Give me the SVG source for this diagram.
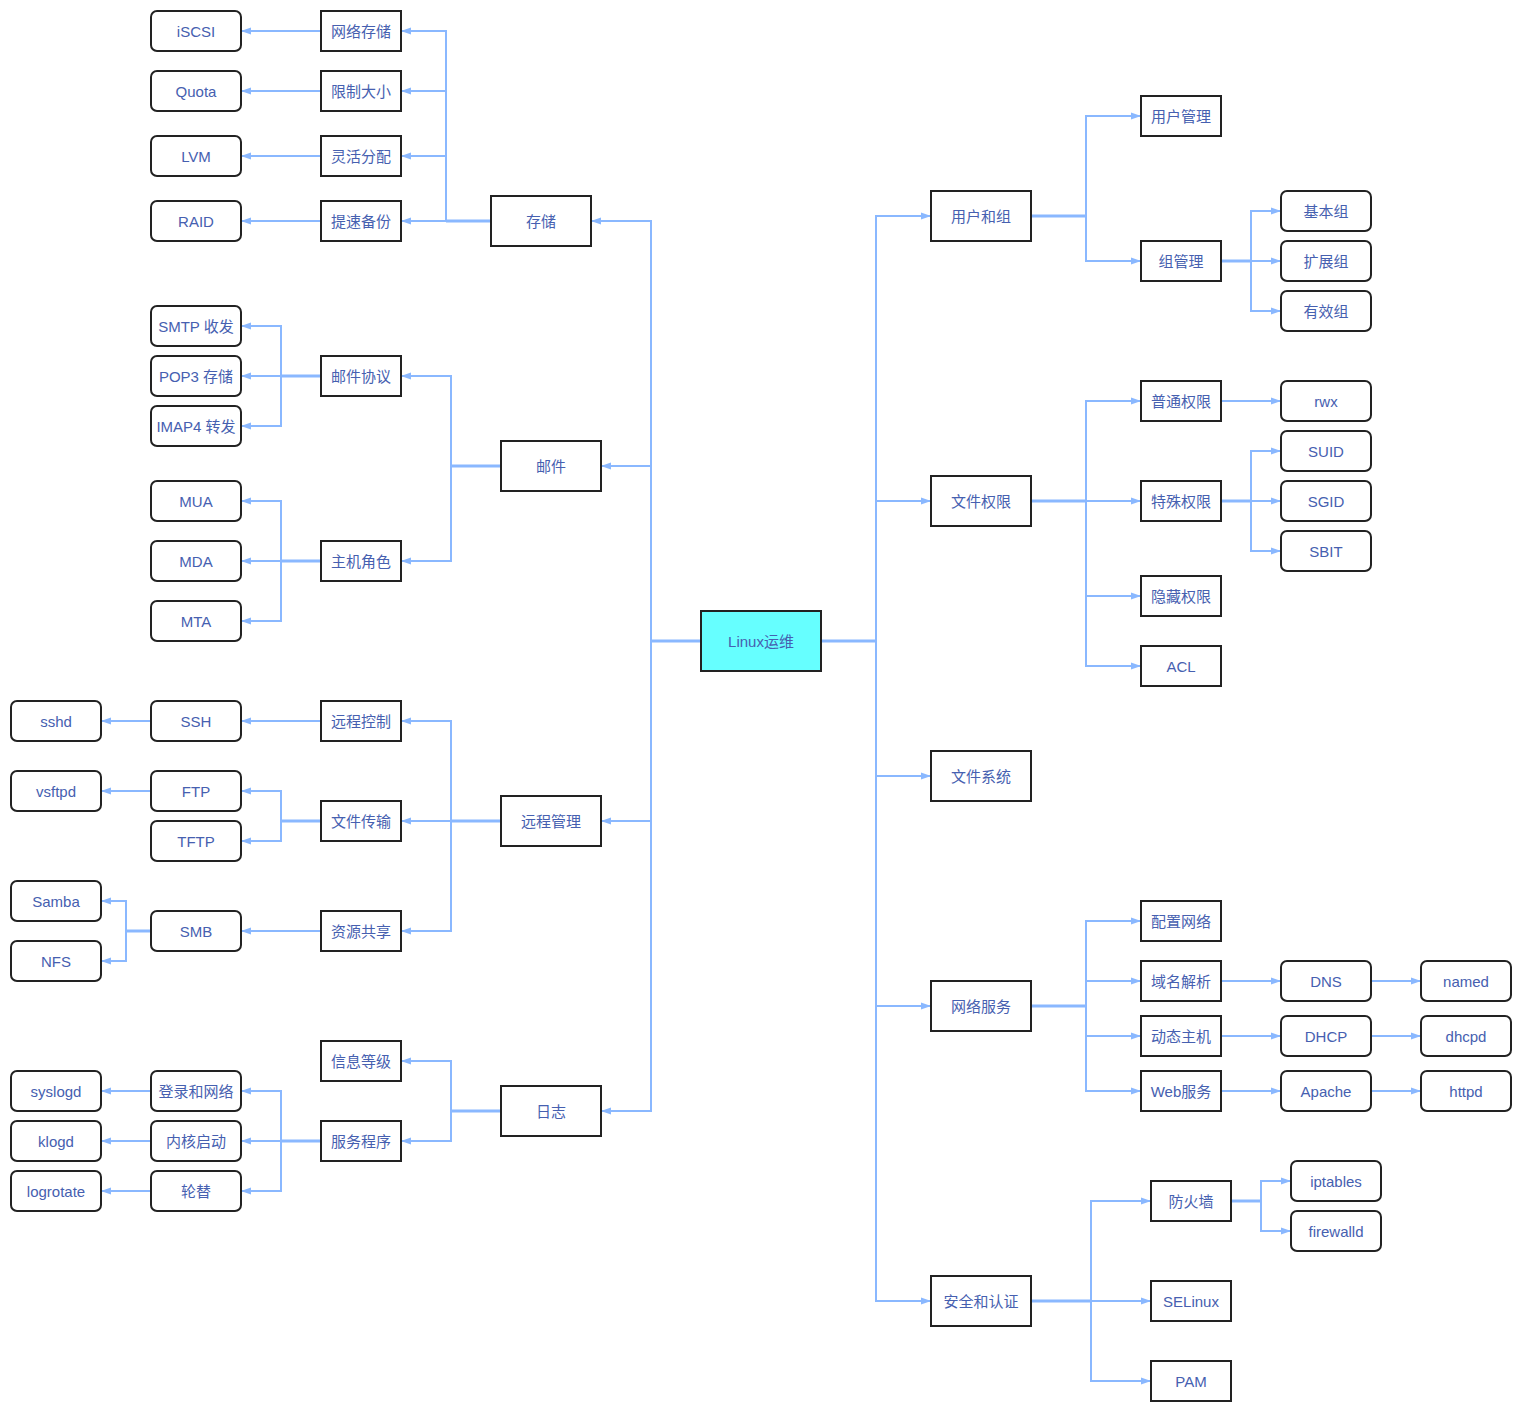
<svg xmlns="http://www.w3.org/2000/svg" width="1522" height="1412" viewBox="0 0 1522 1412">
<defs>
<style>
.b{fill:#fff;stroke:#222;stroke-width:2}
.ctr{fill:#66ffff;stroke:#222;stroke-width:2}
text{font-family:"Liberation Sans","Noto Sans CJK SC",sans-serif;font-size:15px;fill:#4660b0;text-anchor:middle;dominant-baseline:central}
.c path{fill:none;stroke:#8ab8ff;stroke-width:2}
.c path.s{stroke-width:3}
.c path.a{marker-end:url(#ar)}
</style>
<marker id="ar" viewBox="0 0 10 10" refX="10" refY="5" markerWidth="10" markerHeight="10" markerUnits="userSpaceOnUse" orient="auto"><path d="M0,1.5 L10,5 L0,8.5 z" fill="#8ab8ff"/></marker>
</defs>
<rect width="1522" height="1412" fill="#fff"/>
<g id="connectors" class="c">
<path class="s" d="M701,641 H651"/>
<path class="a" d="M651,641 V221 H591"/>
<path class="a" d="M651,641 V466 H601"/>
<path class="a" d="M651,641 V821 H601"/>
<path class="a" d="M651,641 V1111 H601"/>
<path class="s" d="M491,221 H446"/>
<path class="a" d="M446,221 V31 H401"/>
<path class="a" d="M446,221 V91 H401"/>
<path class="a" d="M446,221 V156 H401"/>
<path class="a" d="M446,221 H401"/>
<path class="a" d="M321,31 H241"/>
<path class="a" d="M321,91 H241"/>
<path class="a" d="M321,156 H241"/>
<path class="a" d="M321,221 H241"/>
<path class="s" d="M501,466 H451"/>
<path class="a" d="M451,466 V376 H401"/>
<path class="a" d="M451,466 V561 H401"/>
<path class="s" d="M321,376 H281"/>
<path class="a" d="M281,376 V326 H241"/>
<path class="a" d="M281,376 H241"/>
<path class="a" d="M281,376 V426 H241"/>
<path class="s" d="M321,561 H281"/>
<path class="a" d="M281,561 V501 H241"/>
<path class="a" d="M281,561 H241"/>
<path class="a" d="M281,561 V621 H241"/>
<path class="s" d="M501,821 H451"/>
<path class="a" d="M451,821 V721 H401"/>
<path class="a" d="M451,821 H401"/>
<path class="a" d="M451,821 V931 H401"/>
<path class="a" d="M321,721 H241"/>
<path class="a" d="M151,721 H101"/>
<path class="s" d="M321,821 H281"/>
<path class="a" d="M281,821 V791 H241"/>
<path class="a" d="M281,821 V841 H241"/>
<path class="a" d="M151,791 H101"/>
<path class="a" d="M321,931 H241"/>
<path class="s" d="M151,931 H126"/>
<path class="a" d="M126,931 V901 H101"/>
<path class="a" d="M126,931 V961 H101"/>
<path class="s" d="M501,1111 H451"/>
<path class="a" d="M451,1111 V1061 H401"/>
<path class="a" d="M451,1111 V1141 H401"/>
<path class="s" d="M321,1141 H281"/>
<path class="a" d="M281,1141 V1091 H241"/>
<path class="a" d="M281,1141 H241"/>
<path class="a" d="M281,1141 V1191 H241"/>
<path class="a" d="M151,1091 H101"/>
<path class="a" d="M151,1141 H101"/>
<path class="a" d="M151,1191 H101"/>
<path class="s" d="M821,641 H876"/>
<path class="a" d="M876,641 V216 H931"/>
<path class="a" d="M876,641 V501 H931"/>
<path class="a" d="M876,641 V776 H931"/>
<path class="a" d="M876,641 V1006 H931"/>
<path class="a" d="M876,641 V1301 H931"/>
<path class="s" d="M1031,216 H1086"/>
<path class="a" d="M1086,216 V116 H1141"/>
<path class="a" d="M1086,216 V261 H1141"/>
<path class="s" d="M1221,261 H1251"/>
<path class="a" d="M1251,261 V211 H1281"/>
<path class="a" d="M1251,261 H1281"/>
<path class="a" d="M1251,261 V311 H1281"/>
<path class="s" d="M1031,501 H1086"/>
<path class="a" d="M1086,501 V401 H1141"/>
<path class="a" d="M1086,501 H1141"/>
<path class="a" d="M1086,501 V596 H1141"/>
<path class="a" d="M1086,501 V666 H1141"/>
<path class="a" d="M1221,401 H1281"/>
<path class="s" d="M1221,501 H1251"/>
<path class="a" d="M1251,501 V451 H1281"/>
<path class="a" d="M1251,501 H1281"/>
<path class="a" d="M1251,501 V551 H1281"/>
<path class="s" d="M1031,1006 H1086"/>
<path class="a" d="M1086,1006 V921 H1141"/>
<path class="a" d="M1086,1006 V981 H1141"/>
<path class="a" d="M1086,1006 V1036 H1141"/>
<path class="a" d="M1086,1006 V1091 H1141"/>
<path class="a" d="M1221,981 H1281"/>
<path class="a" d="M1371,981 H1421"/>
<path class="a" d="M1221,1036 H1281"/>
<path class="a" d="M1371,1036 H1421"/>
<path class="a" d="M1221,1091 H1281"/>
<path class="a" d="M1371,1091 H1421"/>
<path class="s" d="M1031,1301 H1091"/>
<path class="a" d="M1091,1301 V1201 H1151"/>
<path class="a" d="M1091,1301 H1151"/>
<path class="a" d="M1091,1301 V1381 H1151"/>
<path class="s" d="M1231,1201 H1261"/>
<path class="a" d="M1261,1201 V1181 H1291"/>
<path class="a" d="M1261,1201 V1231 H1291"/>
</g>
<g id="n-root"><rect class="ctr" x="701" y="611" width="120" height="60"/><text x="761" y="641">Linux运维</text></g>
<g id="n-storage"><rect class="b" x="491" y="196" width="100" height="50"/><text x="541" y="221">存储</text></g>
<g id="n-mail"><rect class="b" x="501" y="441" width="100" height="50"/><text x="551" y="466">邮件</text></g>
<g id="n-remote"><rect class="b" x="501" y="796" width="100" height="50"/><text x="551" y="821">远程管理</text></g>
<g id="n-log"><rect class="b" x="501" y="1086" width="100" height="50"/><text x="551" y="1111">日志</text></g>
<g id="n-netstor"><rect class="b" x="321" y="11" width="80" height="40"/><text x="361" y="31">网络存储</text></g>
<g id="n-limit"><rect class="b" x="321" y="71" width="80" height="40"/><text x="361" y="91">限制大小</text></g>
<g id="n-flex"><rect class="b" x="321" y="136" width="80" height="40"/><text x="361" y="156">灵活分配</text></g>
<g id="n-backup"><rect class="b" x="321" y="201" width="80" height="40"/><text x="361" y="221">提速备份</text></g>
<g id="n-iscsi"><rect class="b" x="151" y="11" width="90" height="40" rx="6"/><text x="196" y="31">iSCSI</text></g>
<g id="n-quota"><rect class="b" x="151" y="71" width="90" height="40" rx="6"/><text x="196" y="91">Quota</text></g>
<g id="n-lvm"><rect class="b" x="151" y="136" width="90" height="40" rx="6"/><text x="196" y="156">LVM</text></g>
<g id="n-raid"><rect class="b" x="151" y="201" width="90" height="40" rx="6"/><text x="196" y="221">RAID</text></g>
<g id="n-mailproto"><rect class="b" x="321" y="356" width="80" height="40"/><text x="361" y="376">邮件协议</text></g>
<g id="n-hostrole"><rect class="b" x="321" y="541" width="80" height="40"/><text x="361" y="561">主机角色</text></g>
<g id="n-smtp"><rect class="b" x="151" y="306" width="90" height="40" rx="6"/><text x="196" y="326">SMTP 收发</text></g>
<g id="n-pop3"><rect class="b" x="151" y="356" width="90" height="40" rx="6"/><text x="196" y="376">POP3 存储</text></g>
<g id="n-imap4"><rect class="b" x="151" y="406" width="90" height="40" rx="6"/><text x="196" y="426">IMAP4 转发</text></g>
<g id="n-mua"><rect class="b" x="151" y="481" width="90" height="40" rx="6"/><text x="196" y="501">MUA</text></g>
<g id="n-mda"><rect class="b" x="151" y="541" width="90" height="40" rx="6"/><text x="196" y="561">MDA</text></g>
<g id="n-mta"><rect class="b" x="151" y="601" width="90" height="40" rx="6"/><text x="196" y="621">MTA</text></g>
<g id="n-rctl"><rect class="b" x="321" y="701" width="80" height="40"/><text x="361" y="721">远程控制</text></g>
<g id="n-ftrans"><rect class="b" x="321" y="801" width="80" height="40"/><text x="361" y="821">文件传输</text></g>
<g id="n-share"><rect class="b" x="321" y="911" width="80" height="40"/><text x="361" y="931">资源共享</text></g>
<g id="n-ssh"><rect class="b" x="151" y="701" width="90" height="40" rx="6"/><text x="196" y="721">SSH</text></g>
<g id="n-ftp"><rect class="b" x="151" y="771" width="90" height="40" rx="6"/><text x="196" y="791">FTP</text></g>
<g id="n-tftp"><rect class="b" x="151" y="821" width="90" height="40" rx="6"/><text x="196" y="841">TFTP</text></g>
<g id="n-smb"><rect class="b" x="151" y="911" width="90" height="40" rx="6"/><text x="196" y="931">SMB</text></g>
<g id="n-sshd"><rect class="b" x="11" y="701" width="90" height="40" rx="6"/><text x="56" y="721">sshd</text></g>
<g id="n-vsftpd"><rect class="b" x="11" y="771" width="90" height="40" rx="6"/><text x="56" y="791">vsftpd</text></g>
<g id="n-samba"><rect class="b" x="11" y="881" width="90" height="40" rx="6"/><text x="56" y="901">Samba</text></g>
<g id="n-nfs"><rect class="b" x="11" y="941" width="90" height="40" rx="6"/><text x="56" y="961">NFS</text></g>
<g id="n-level"><rect class="b" x="321" y="1041" width="80" height="40"/><text x="361" y="1061">信息等级</text></g>
<g id="n-svc"><rect class="b" x="321" y="1121" width="80" height="40"/><text x="361" y="1141">服务程序</text></g>
<g id="n-loginnet"><rect class="b" x="151" y="1071" width="90" height="40" rx="6"/><text x="196" y="1091">登录和网络</text></g>
<g id="n-kernel"><rect class="b" x="151" y="1121" width="90" height="40" rx="6"/><text x="196" y="1141">内核启动</text></g>
<g id="n-rotate"><rect class="b" x="151" y="1171" width="90" height="40" rx="6"/><text x="196" y="1191">轮替</text></g>
<g id="n-syslogd"><rect class="b" x="11" y="1071" width="90" height="40" rx="6"/><text x="56" y="1091">syslogd</text></g>
<g id="n-klogd"><rect class="b" x="11" y="1121" width="90" height="40" rx="6"/><text x="56" y="1141">klogd</text></g>
<g id="n-logrotate"><rect class="b" x="11" y="1171" width="90" height="40" rx="6"/><text x="56" y="1191">logrotate</text></g>
<g id="n-usergroup"><rect class="b" x="931" y="191" width="100" height="50"/><text x="981" y="216">用户和组</text></g>
<g id="n-fperm"><rect class="b" x="931" y="476" width="100" height="50"/><text x="981" y="501">文件权限</text></g>
<g id="n-fs"><rect class="b" x="931" y="751" width="100" height="50"/><text x="981" y="776">文件系统</text></g>
<g id="n-netsvc"><rect class="b" x="931" y="981" width="100" height="50"/><text x="981" y="1006">网络服务</text></g>
<g id="n-sec"><rect class="b" x="931" y="1276" width="100" height="50"/><text x="981" y="1301">安全和认证</text></g>
<g id="n-usermgmt"><rect class="b" x="1141" y="96" width="80" height="40"/><text x="1181" y="116">用户管理</text></g>
<g id="n-groupmgmt"><rect class="b" x="1141" y="241" width="80" height="40"/><text x="1181" y="261">组管理</text></g>
<g id="n-basegrp"><rect class="b" x="1281" y="191" width="90" height="40" rx="6"/><text x="1326" y="211">基本组</text></g>
<g id="n-extgrp"><rect class="b" x="1281" y="241" width="90" height="40" rx="6"/><text x="1326" y="261">扩展组</text></g>
<g id="n-effgrp"><rect class="b" x="1281" y="291" width="90" height="40" rx="6"/><text x="1326" y="311">有效组</text></g>
<g id="n-normperm"><rect class="b" x="1141" y="381" width="80" height="40"/><text x="1181" y="401">普通权限</text></g>
<g id="n-specperm"><rect class="b" x="1141" y="481" width="80" height="40"/><text x="1181" y="501">特殊权限</text></g>
<g id="n-hidperm"><rect class="b" x="1141" y="576" width="80" height="40"/><text x="1181" y="596">隐藏权限</text></g>
<g id="n-acl"><rect class="b" x="1141" y="646" width="80" height="40"/><text x="1181" y="666">ACL</text></g>
<g id="n-rwx"><rect class="b" x="1281" y="381" width="90" height="40" rx="6"/><text x="1326" y="401">rwx</text></g>
<g id="n-suid"><rect class="b" x="1281" y="431" width="90" height="40" rx="6"/><text x="1326" y="451">SUID</text></g>
<g id="n-sgid"><rect class="b" x="1281" y="481" width="90" height="40" rx="6"/><text x="1326" y="501">SGID</text></g>
<g id="n-sbit"><rect class="b" x="1281" y="531" width="90" height="40" rx="6"/><text x="1326" y="551">SBIT</text></g>
<g id="n-netcfg"><rect class="b" x="1141" y="901" width="80" height="40"/><text x="1181" y="921">配置网络</text></g>
<g id="n-dnsres"><rect class="b" x="1141" y="961" width="80" height="40"/><text x="1181" y="981">域名解析</text></g>
<g id="n-dynhost"><rect class="b" x="1141" y="1016" width="80" height="40"/><text x="1181" y="1036">动态主机</text></g>
<g id="n-websvc"><rect class="b" x="1141" y="1071" width="80" height="40"/><text x="1181" y="1091">Web服务</text></g>
<g id="n-dns"><rect class="b" x="1281" y="961" width="90" height="40" rx="6"/><text x="1326" y="981">DNS</text></g>
<g id="n-dhcp"><rect class="b" x="1281" y="1016" width="90" height="40" rx="6"/><text x="1326" y="1036">DHCP</text></g>
<g id="n-apache"><rect class="b" x="1281" y="1071" width="90" height="40" rx="6"/><text x="1326" y="1091">Apache</text></g>
<g id="n-named"><rect class="b" x="1421" y="961" width="90" height="40" rx="6"/><text x="1466" y="981">named</text></g>
<g id="n-dhcpd"><rect class="b" x="1421" y="1016" width="90" height="40" rx="6"/><text x="1466" y="1036">dhcpd</text></g>
<g id="n-httpd"><rect class="b" x="1421" y="1071" width="90" height="40" rx="6"/><text x="1466" y="1091">httpd</text></g>
<g id="n-firewall"><rect class="b" x="1151" y="1181" width="80" height="40"/><text x="1191" y="1201">防火墙</text></g>
<g id="n-selinux"><rect class="b" x="1151" y="1281" width="80" height="40"/><text x="1191" y="1301">SELinux</text></g>
<g id="n-pam"><rect class="b" x="1151" y="1361" width="80" height="40"/><text x="1191" y="1381">PAM</text></g>
<g id="n-iptables"><rect class="b" x="1291" y="1161" width="90" height="40" rx="6"/><text x="1336" y="1181">iptables</text></g>
<g id="n-firewalld"><rect class="b" x="1291" y="1211" width="90" height="40" rx="6"/><text x="1336" y="1231">firewalld</text></g>
</svg>
